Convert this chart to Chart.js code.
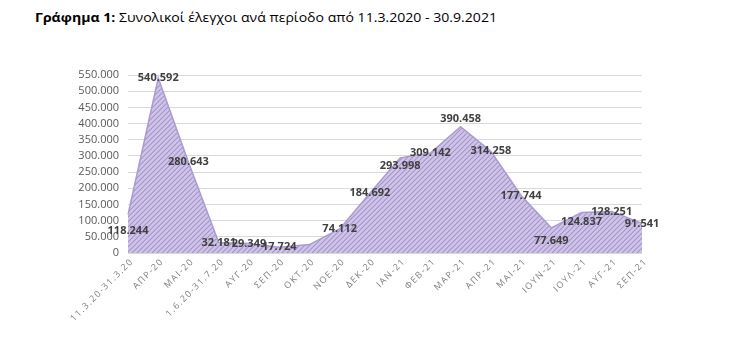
<!DOCTYPE html>
<html>
<head>
<meta charset="utf-8">
<script src="https://cdn.jsdelivr.net/npm/chart.js@4"></script>
<style>
  html, body { margin:0; padding:0; background:#fff; width:730px; height:338px; overflow:hidden; }
  #title { position:absolute; left:35px; top:8px; font-family:"Open Sans", sans-serif; font-size:13px; color:#000; white-space:nowrap; transform-origin:left top; }
  #title b { font-weight:700; }
  #wrap { position:absolute; left:0; top:0; width:730px; height:338px; }
</style>
</head>
<body>
<div id="title"><b>Γράφημα 1:</b> Συνολικοί έλεγχοι ανά περίοδο από 11.3.2020 - 30.9.2021</div>
<div id="wrap"><canvas id="c" width="730" height="338"></canvas></div>
<script>
const categories = ["11.3.20-31.3.20","ΑΠΡ-20","ΜΑΙ-20","1.6.20-31.7.20","ΑΥΓ-20","ΣΕΠ-20","ΟΚΤ-20","ΝΟΕ-20","ΔΕΚ-20","ΙΑΝ-21","ΦΕΒ-21","ΜΑΡ-21","ΑΠΡ-21","ΜΑΙ-21","ΙΟΥΝ-21","ΙΟΥΛ-21","ΑΥΓ-21","ΣΕΠ-21"];
const checks = [118244,540592,280643,32181,29349,17724,26000,74112,184692,293998,309142,390458,314258,177744,77649,124837,128251,91541];
const labelShown = [true,true,true,true,true,true,false,true,true,true,true,true,true,true,true,true,true,true];
const yTicks = [0,50000,100000,150000,200000,250000,300000,350000,400000,450000,500000,550000];

(function(){
  const t = document.getElementById('title');
  const w = t.getBoundingClientRect().width;
  t.style.transform = 'scaleX(' + (462 / w) + ')';
})();

function fmt(v){ return String(v).replace(/\B(?=(\d{3})+(?!\d))/g, '.'); }

function makePattern(){
  const s = 5;
  const pc = document.createElement('canvas');
  pc.width = s; pc.height = s;
  const g = pc.getContext('2d');
  g.fillStyle = '#d0c5e7';
  g.fillRect(0,0,s,s);
  g.strokeStyle = '#a493cd';
  g.lineWidth = 1.1;
  g.beginPath();
  g.moveTo(0,s); g.lineTo(s,0);
  g.moveTo(-1,1); g.lineTo(1,-1);
  g.moveTo(s-1,s+1); g.lineTo(s+1,s-1);
  g.stroke();
  return document.getElementById('c').getContext('2d').createPattern(pc,'repeat');
}

const labelOffsets = {0:16, 9:8, 11:-8, 14:13, 15:9};

const dataLabels = {
  id:'dataLabels',
  afterDatasetsDraw(chart){
    const ctx = chart.ctx;
    const meta = chart.getDatasetMeta(0);
    ctx.save();
    ctx.font = 'bold 11px "Open Sans", sans-serif';
    ctx.fillStyle = '#404040';
    ctx.textAlign = 'center';
    ctx.textBaseline = 'middle';
    meta.data.forEach((pt,i)=>{
      if(!labelShown[i]) return;
      const dy = labelOffsets[i] || 0;
      ctx.fillText(fmt(checks[i]), pt.x, pt.y + dy);
    });
    ctx.restore();
  }
};

const xLabels = {
  id:'xLabels',
  afterDraw(chart){
    const ctx = chart.ctx;
    const xs = chart.scales.x;
    const bottom = chart.chartArea.bottom;
    ctx.save();
    ctx.font = '9px "Open Sans", sans-serif';
    ctx.fillStyle = '#7f7f7f';
    if ('letterSpacing' in ctx) ctx.letterSpacing = '1.4px';
    ctx.textAlign = 'right';
    ctx.textBaseline = 'middle';
    categories.forEach((c,i)=>{
      const x = xs.getPixelForValue(i);
      ctx.save();
      ctx.translate(x + 4, bottom + 7);
      ctx.rotate(-Math.PI/4);
      ctx.fillText(c, 0, 0);
      ctx.restore();
    });
    ctx.restore();
  }
};

new Chart(document.getElementById('c'), {
  type:'line',
  data:{
    labels:categories,
    datasets:[{
      data:checks,
      fill:'origin',
      backgroundColor:makePattern(),
      borderColor:'#ab9bd2',
      borderWidth:1.5,
      pointRadius:0,
      tension:0
    }]
  },
  options:{
    responsive:false,
    animation:false,
    devicePixelRatio:1,
    layout:{ padding:{ left:58, right:88, top:75, bottom:0 } },
    plugins:{ legend:{display:false}, tooltip:{enabled:false}, title:{display:false} },
    scales:{
      x:{
        offset:false,
        grid:{ display:false, drawTicks:false },
        border:{ display:false },
        afterFit(s){ s.height = 85; },
        ticks:{ display:false, autoSkip:false }
      },
      y:{
        min:0, max:550000,
        afterFit(s){ s.width = 70; },
        afterBuildTicks(s){ s.ticks = yTicks.map(v=>({value:v})); },
        grid:{ color:'#d9d9d9', drawTicks:false, lineWidth:1 },
        border:{ display:false },
        ticks:{
          autoSkip:false,
          padding:9, color:'#595959',
          font:{ family:'"Open Sans", sans-serif', size:11 },
          callback:(v)=>fmt(v)
        }
      }
    }
  },
  plugins:[dataLabels, xLabels]
});
</script>
</body>
</html>
